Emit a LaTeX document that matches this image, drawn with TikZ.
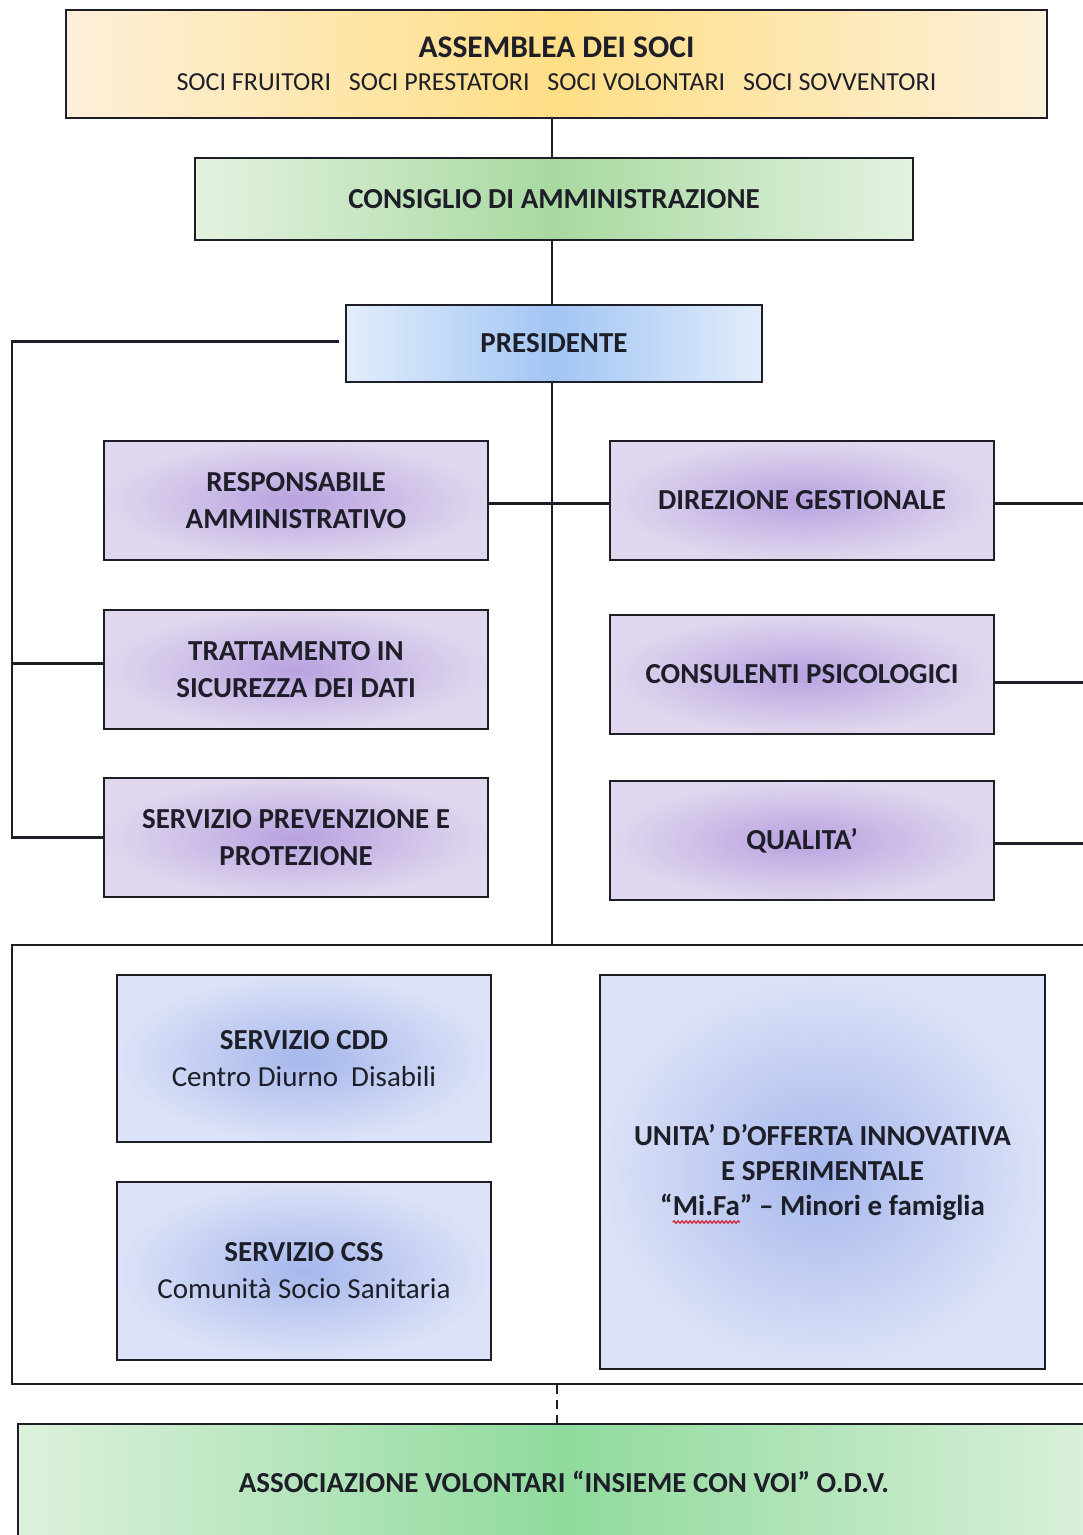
\documentclass[tikz,border=0pt]{standalone}
\usepackage{fontspec}
\setmainfont{Carlito}
\usetikzlibrary{decorations.pathmorphing}
\definecolor{ink}{HTML}{1E1E28}
\definecolor{asmE}{HTML}{FCF0DA}
\definecolor{asmC}{HTML}{FFDE85}
\definecolor{grnE}{HTML}{E4F2E0}
\definecolor{grnC}{HTML}{A8D9A0}
\definecolor{agrE}{HTML}{DDF1DC}
\definecolor{agrC}{HTML}{8FDA9C}
\definecolor{bluE}{HTML}{E2EDFB}
\definecolor{bluC}{HTML}{A2C5F4}
\definecolor{purE}{HTML}{E0D7EE}
\definecolor{purC}{HTML}{B8A2E0}
\definecolor{sbE}{HTML}{DCE2F7}
\definecolor{sbC}{HTML}{A6B7EC}
\definecolor{spell}{HTML}{D02030}
\newlength\lnW
\newlength\qW
\newlength\mfW
\newcommand\unitafont{\fontsize{29pt}{35pt}\selectfont\bfseries}
\tikzset{
  boxbase/.style={draw=ink, line width=2.2pt, inner sep=0pt, align=center, text=ink},
  hgrad/.style 2 args={boxbase, left color=#1, right color=#1, middle color=#2},
  rgrad/.style 2 args={boxbase, inner color=#2, outer color=#1},
  ttl/.style={font=\fontsize{29pt}{37pt}\selectfont\bfseries},
  conn/.style={draw=ink, line width=2.2pt},
}
\begin{document}
\settowidth\lnW{\unitafont “Mi.Fa” – Minori e famiglia}%
\settowidth\qW{\unitafont “}%
\settowidth\mfW{\unitafont Mi.Fa}%
\begin{tikzpicture}[x=1pt,y=-1pt]
\useasboundingbox (0,0) rectangle (1083,1535);
\fill[white] (0,0) rectangle (1083,1535);

% top chain
\node[hgrad={asmE}{asmC}, minimum width=981pt, minimum height=108pt,
      font=\fontsize{26pt}{33pt}\selectfont] (asm) at (556.5,64)
  {{\fontsize{31.5pt}{33pt}\selectfont\bfseries ASSEMBLEA DEI SOCI}\\
   SOCI FRUITORI\hspace{12pt} SOCI PRESTATORI\hspace{12pt} SOCI VOLONTARI\hspace{12pt} SOCI SOVVENTORI};
\node[hgrad={grnE}{grnC}, minimum width=718pt, minimum height=82pt, ttl] (cda) at (554,199)
  {CONSIGLIO DI AMMINISTRAZIONE};
\node[hgrad={bluE}{bluC}, minimum width=416pt, minimum height=77pt, ttl] (pres) at (554,343.5)
  {PRESIDENTE};

% staff boxes
\node[rgrad={purE}{purC}, minimum width=384pt, minimum height=119pt, ttl] (resp) at (296,500.5)
  {RESPONSABILE\\AMMINISTRATIVO};
\node[rgrad={purE}{purC}, minimum width=384pt, minimum height=119pt, ttl] (tratt) at (296,669.5)
  {TRATTAMENTO IN\\SICUREZZA DEI DATI};
\node[rgrad={purE}{purC}, minimum width=384pt, minimum height=119pt, ttl] (serv) at (296,837.5)
  {SERVIZIO PREVENZIONE E\\PROTEZIONE};
\node[rgrad={purE}{purC}, minimum width=384pt, minimum height=119pt, ttl] (dir) at (802,500.5)
  {DIREZIONE GESTIONALE};
\node[rgrad={purE}{purC}, minimum width=384pt, minimum height=119pt, ttl] (cons) at (802,674.5)
  {CONSULENTI PSICOLOGICI};
\node[rgrad={purE}{purC}, minimum width=384pt, minimum height=119pt, ttl] (qual) at (802,840.5)
  {QUALITA’};

% services group
\node[boxbase, minimum width=1098pt, minimum height=439pt] (grp) at (561,1164.5) {};
\node[rgrad={sbE}{sbC}, minimum width=374pt, minimum height=167pt, ttl] (cdd) at (304,1058.5)
  {SERVIZIO CDD\\{\mdseries Centro Diurno\ \ Disabili}};
\node[rgrad={sbE}{sbC}, minimum width=374pt, minimum height=178pt, ttl] (css) at (304,1271)
  {SERVIZIO CSS\\{\mdseries Comunità Socio Sanitaria}};
\node[rgrad={sbE}{sbC}, minimum width=445pt, minimum height=394pt,
      font=\unitafont] (unita) at (822.5,1172)
  {UNITA’ D’OFFERTA INNOVATIVA\\E SPERIMENTALE\\“Mi.Fa” – Minori e famiglia};
% spell-check wavy underline under "Mi.Fa"
\coordinate (mfA) at ([xshift=-0.5\lnW+\qW, yshift=-50pt]unita.center);
\coordinate (mfB) at ([xshift=-0.5\lnW+\qW+\mfW, yshift=-50pt]unita.center);
\draw[spell, line width=1.3pt, decorate,
      decoration={snake, amplitude=1.1pt, segment length=4pt}] (mfA) -- (mfB);

% association
\node[hgrad={agrE}{agrC}, minimum width=1092pt, minimum height=116pt, ttl] (assoc) at (564,1482)
  {ASSOCIAZIONE VOLONTARI “INSIEME CON VOI” O.D.V.};

% connectors
\coordinate (spine) at (552,0);
\coordinate (lbus) at (12,0);
\coordinate (rbus) at (1100,0);
\coordinate (dsh) at (557,0);
\draw[conn] (asm.south -| spine) -- (cda.north -| spine);
\draw[conn] (cda.south -| spine) -- (pres.north -| spine);
\draw[conn] (pres.south -| spine) -- (grp.north -| spine);
\draw[conn] ([yshift=-3pt]resp.east) -- ([yshift=-3pt]dir.west);
\draw[conn] ([xshift=-6pt,yshift=2pt]pres.west) -- ([yshift=2pt]pres.west -| lbus)
            -- (serv.west -| lbus) -- (serv.west);
\draw[conn] ([yshift=6pt]tratt.west -| lbus) -- ([yshift=6pt]tratt.west);
\draw[conn] ([yshift=-3pt]dir.east) -- ([yshift=-3pt]dir.east -| rbus);
\draw[conn] ([yshift=-8pt]cons.east) -- ([yshift=-8pt]cons.east -| rbus);
\draw[conn] ([yshift=-3pt]qual.east) -- ([yshift=-3pt]qual.east -| rbus);
\draw[conn, line width=1.6pt, dash pattern=on 9pt off 6pt] (grp.south -| dsh) -- (assoc.north -| dsh);
\end{tikzpicture}
\end{document}
